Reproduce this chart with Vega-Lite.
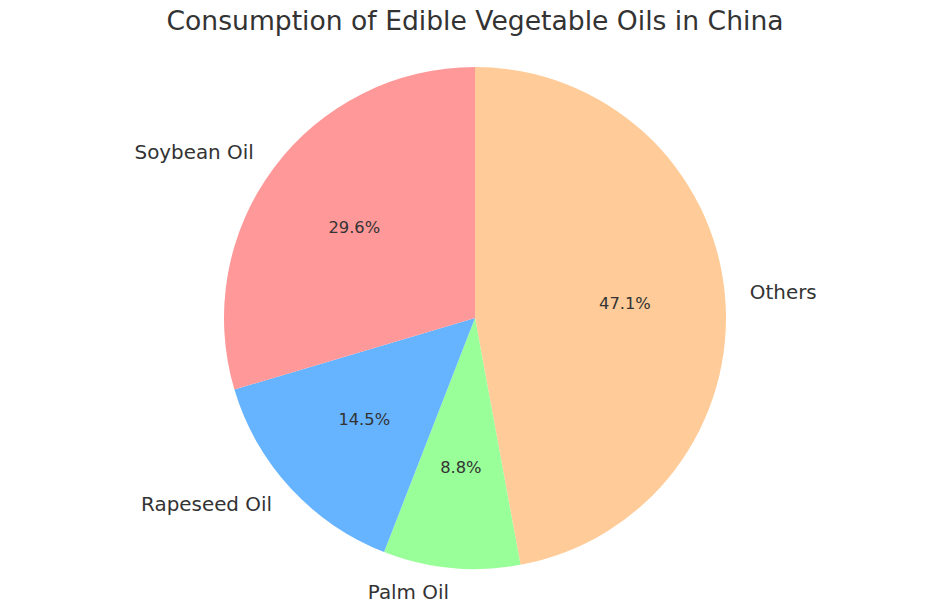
{
  "$schema": "https://vega.github.io/schema/vega-lite/v6.json",
  "width": 950,
  "height": 636,
  "autosize": "none",
  "padding": 0,
  "background": "white",
  "config": {"view": {"stroke": null}, "font": "DejaVu Sans"},
  "title": {"text": "Consumption of Edible Vegetable Oils in China", "fontSize": 26.6, "font": "DejaVu Sans", "fontWeight": "normal", "color": "#333333", "offset": -57, "anchor": "middle", "baseline": "alphabetic"},
  "data": {"values": [
    {"name": "Others", "value": 47.1, "ord": 1, "side": "right"},
    {"name": "Palm Oil", "value": 8.8, "ord": 2, "side": "left"},
    {"name": "Rapeseed Oil", "value": 14.5, "ord": 3, "side": "left"},
    {"name": "Soybean Oil", "value": 29.6, "ord": 4, "side": "left"}
  ]},
  "transform": [
    {"calculate": "format(datum.value, '.1f') + '%'", "as": "pct"},
    {"calculate": "datum.side == 'left' ? datum.name : ''", "as": "leftLabel"},
    {"calculate": "datum.side == 'right' ? datum.name : ''", "as": "rightLabel"}
  ],
  "encoding": {
    "theta": {"field": "value", "type": "quantitative", "stack": true},
    "order": {"field": "ord", "type": "quantitative"}
  },
  "layer": [
    {
      "mark": {"type": "arc", "outerRadius": 251},
      "encoding": {
        "color": {"field": "name", "type": "nominal", "legend": null,
          "scale": {"domain": ["Soybean Oil", "Rapeseed Oil", "Palm Oil", "Others"], "range": ["#ff9999", "#66b3ff", "#99ff99", "#ffcc99"]}}
      }
    },
    {
      "mark": {"type": "text", "radius": 150.6, "fontSize": 16.3, "color": "#333333", "baseline": "middle", "align": "center"},
      "encoding": {"text": {"field": "pct", "type": "nominal"}}
    },
    {
      "mark": {"type": "text", "radius": 276, "fontSize": 19.9, "color": "#333333", "baseline": "middle", "align": "right"},
      "encoding": {"text": {"field": "leftLabel", "type": "nominal"}}
    },
    {
      "mark": {"type": "text", "radius": 276, "fontSize": 19.9, "color": "#333333", "baseline": "middle", "align": "left"},
      "encoding": {"text": {"field": "rightLabel", "type": "nominal"}}
    }
  ]
}
